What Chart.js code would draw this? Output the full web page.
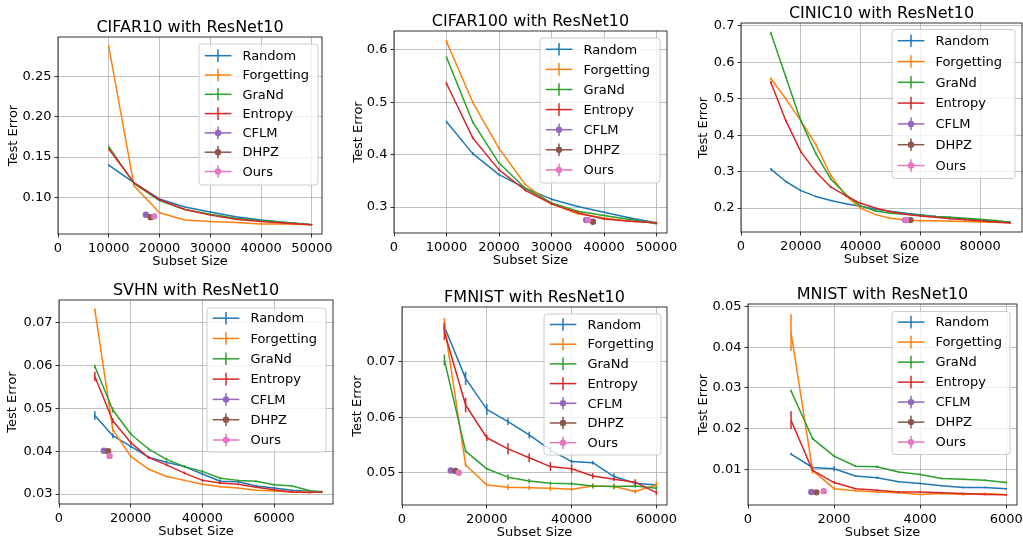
<!DOCTYPE html>
<html><head><meta charset="utf-8">
<script src="https://cdn.jsdelivr.net/npm/chart.js@4.4.1/dist/chart.umd.min.js"></script>
<style>
html,body{margin:0;padding:0;background:#fff;width:1023px;height:537px;overflow:hidden;position:relative}
canvas{position:absolute}
</style></head><body>
<script>
// ---------- data ----------
const methods = ['Random','Forgetting','GraNd','Entropy','CFLM','DHPZ','Ours'];

// CIFAR10
const cifar10Sizes = [10000,15000,20000,25000,30000,35000,40000,45000,50000];
const cifar10Random     = [0.140,0.118,0.098,0.088,0.082,0.076,0.072,0.069,0.066];
const cifar10Forgetting = [0.287,0.114,0.081,0.072,0.070,0.069,0.067,0.067,0.066];
const cifar10GraNd      = [0.163,0.117,0.096,0.085,0.079,0.074,0.071,0.069,0.066];
const cifar10Entropy    = [0.160,0.118,0.097,0.085,0.078,0.073,0.070,0.068,0.066];
const cifar10RandomErr     = [0.001,0.0008,0.0006,0.0005,0.0005,0.0005,0.0004,0.0004,0.0003];
const cifar10ForgettingErr = [0.002,0.0008,0.0006,0.0005,0.0005,0.0008,0.0004,0.0004,0.0003];
const cifar10GraNdErr      = [0.001,0.0008,0.0006,0.0005,0.0005,0.0005,0.0004,0.0004,0.0003];
const cifar10EntropyErr    = [0.001,0.0008,0.0006,0.0005,0.0005,0.0005,0.0004,0.0004,0.0003];
const cifar10CFLM = [17300,0.0785,0.0005];
const cifar10DHPZ = [18250,0.0755,0.0005];
const cifar10Ours = [18950,0.0765,0.0005];
const cifar10XTicks = ['0','10000','20000','30000','40000','50000'];
const cifar10YTicks = ['0.10','0.15','0.20','0.25'];
const cifar10XRange = [0,52000];
const cifar10YRange = [0.0546,0.2988];

// CIFAR100
const cifar100Sizes = [10000,15000,20000,25000,30000,35000,40000,45000,50000];
const cifar100Random     = [0.463,0.402,0.362,0.336,0.315,0.301,0.290,0.279,0.270];
const cifar100Forgetting = [0.616,0.500,0.412,0.343,0.306,0.287,0.279,0.273,0.270];
const cifar100GraNd      = [0.586,0.462,0.384,0.336,0.308,0.292,0.284,0.276,0.268];
const cifar100Entropy    = [0.536,0.432,0.371,0.332,0.306,0.289,0.277,0.273,0.270];
const cifar100RandomErr     = [0.002,0.003,0.002,0.002,0.002,0.0015,0.0015,0.002,0.0015];
const cifar100ForgettingErr = [0.003,0.002,0.002,0.002,0.002,0.0015,0.0015,0.0015,0.0015];
const cifar100GraNdErr      = [0.002,0.002,0.002,0.002,0.002,0.0015,0.0015,0.0015,0.0015];
const cifar100EntropyErr    = [0.003,0.002,0.002,0.002,0.002,0.0015,0.0015,0.0015,0.0015];
const cifar100CFLM = [36600,0.275,0.002];
const cifar100DHPZ = [37900,0.272,0.002];
const cifar100Ours = [36950,0.275,0.002];
const cifar100XTicks = ['0','10000','20000','30000','40000','50000'];
const cifar100YTicks = ['0.3','0.4','0.5','0.6'];
const cifar100XRange = [0,52000];
const cifar100YRange = [0.2504,0.6362];

// CINIC10
const cinic10Sizes = [10000,15000,20000,25000,30000,35000,40000,45000,50000,55000,60000,65000,70000,75000,80000,85000,90000];
const cinic10Random     = [0.307,0.273,0.248,0.232,0.221,0.212,0.205,0.197,0.191,0.186,0.182,0.177,0.174,0.170,0.167,0.164,0.162];
const cinic10Forgetting = [0.555,0.500,0.440,0.375,0.290,0.235,0.200,0.182,0.172,0.167,0.165,0.165,0.164,0.163,0.162,0.161,0.160];
const cinic10GraNd      = [0.680,0.560,0.440,0.350,0.280,0.238,0.206,0.192,0.186,0.183,0.180,0.177,0.175,0.172,0.169,0.166,0.161];
const cinic10Entropy    = [0.545,0.440,0.355,0.300,0.258,0.234,0.213,0.200,0.190,0.183,0.178,0.175,0.171,0.168,0.165,0.162,0.159];
const cinic10RandomErr     = [0.003,0.002,0.002,0.002,0.002,0.002,0.002,0.002,0.002,0.002,0.002,0.002,0.002,0.002,0.002,0.002,0.002];
const cinic10ForgettingErr = [0.004,0.003,0.003,0.003,0.003,0.002,0.002,0.002,0.002,0.002,0.002,0.002,0.002,0.002,0.002,0.002,0.002];
const cinic10GraNdErr      = [0.004,0.003,0.003,0.003,0.003,0.002,0.002,0.002,0.002,0.002,0.002,0.002,0.002,0.002,0.002,0.002,0.002];
const cinic10EntropyErr    = [0.004,0.003,0.003,0.003,0.003,0.002,0.002,0.002,0.002,0.002,0.002,0.002,0.002,0.002,0.002,0.002,0.002];
const cinic10CFLM = [54900,0.167,0.002];
const cinic10DHPZ = [56700,0.167,0.002];
const cinic10Ours = [55200,0.167,0.002];
const cinic10XTicks = ['0','20000','40000','60000','80000'];
const cinic10YTicks = ['0.2','0.3','0.4','0.5','0.6','0.7'];
const cinic10XRange = [0,94000];
const cinic10YRange = [0.1343,0.7082];

// SVHN
const svhnSizes = [10000,15000,20000,25000,30000,35000,40000,45000,50000,55000,60000,65000,70000,73257];
const svhnRandom     = [0.0483,0.0436,0.0411,0.0386,0.0374,0.0364,0.0347,0.0330,0.0329,0.0319,0.0314,0.0309,0.0306,0.0306];
const svhnForgetting = [0.0729,0.0450,0.0388,0.0358,0.0341,0.0332,0.0323,0.0317,0.0314,0.0309,0.0307,0.0305,0.0305,0.0305];
const svhnGraNd      = [0.0597,0.0496,0.0440,0.0405,0.0381,0.0364,0.0353,0.0337,0.0332,0.0330,0.0322,0.0319,0.0308,0.0305];
const svhnEntropy    = [0.0574,0.0471,0.0420,0.0385,0.0368,0.0349,0.0332,0.0326,0.0323,0.0316,0.0310,0.0305,0.0304,0.0305];
const svhnRandomErr     = [0.0010,0.0006,0.0004,0.0003,0.0003,0.0003,0.0003,0.0003,0.0003,0.0003,0.0002,0.0002,0.0002,0.0002];
const svhnForgettingErr = [0.0003,0.0005,0.0003,0.0002,0.0002,0.0002,0.0002,0.0002,0.0002,0.0002,0.0002,0.0002,0.0002,0.0002];
const svhnGraNdErr      = [0.0004,0.0006,0.0003,0.0003,0.0003,0.0003,0.0003,0.0003,0.0002,0.0002,0.0002,0.0002,0.0002,0.0002];
const svhnEntropyErr    = [0.0011,0.0006,0.0004,0.0003,0.0003,0.0003,0.0003,0.0003,0.0002,0.0002,0.0002,0.0002,0.0002,0.0002];
const svhnCFLM = [12500,0.0401,0.0002];
const svhnDHPZ = [13700,0.0400,0.0002];
const svhnOurs = [14100,0.0389,0.0002];
const svhnXTicks = ['0','20000','40000','60000'];
const svhnYTicks = ['0.03','0.04','0.05','0.06','0.07'];
const svhnXRange = [0,76420];
const svhnYRange = [0.0277,0.0752];

// FMNIST
const fmnistSizes = [10000,15000,20000,25000,30000,35000,40000,45000,50000,55000,60000];
const fmnistRandom     = [0.0763,0.0670,0.0614,0.0592,0.0568,0.0541,0.0520,0.0518,0.0493,0.0481,0.0478];
const fmnistForgetting = [0.0766,0.0514,0.0478,0.0474,0.0473,0.0472,0.0470,0.0476,0.0475,0.0466,0.0478];
const fmnistGraNd      = [0.0703,0.0539,0.0507,0.0492,0.0485,0.0481,0.0480,0.0476,0.0475,0.0476,0.0472];
const fmnistEntropy    = [0.0754,0.0622,0.0563,0.0543,0.0527,0.0511,0.0507,0.0494,0.0488,0.0483,0.0464];
const fmnistRandomErr     = [0.0008,0.0012,0.0010,0.0006,0.0006,0.0006,0.0003,0.0003,0.0006,0.0003,0.0003];
const fmnistForgettingErr = [0.0013,0.0003,0.0002,0.0005,0.0004,0.0005,0.0003,0.0005,0.0005,0.0004,0.0006];
const fmnistGraNdErr      = [0.0010,0.0003,0.0002,0.0005,0.0004,0.0003,0.0003,0.0003,0.0004,0.0003,0.0004];
const fmnistEntropyErr    = [0.0015,0.0013,0.0006,0.0010,0.0008,0.0008,0.0008,0.0005,0.0003,0.0005,0.0004];
const fmnistCFLM = [11500,0.0504,0.0005];
const fmnistDHPZ = [12600,0.0503,0.0004];
const fmnistOurs = [13400,0.0500,0.0002];
const fmnistXTicks = ['0','20000','40000','60000'];
const fmnistYTicks = ['0.05','0.06','0.07'];
const fmnistXRange = [0,62500];
const fmnistYRange = [0.04418,0.07986];

// MNIST
const mnistSizes = [1000,1500,2000,2500,3000,3500,4000,4500,5000,5500,6000];
const mnistRandom     = [0.0138,0.0105,0.0102,0.0084,0.0080,0.0070,0.0066,0.0060,0.0056,0.0056,0.0053];
const mnistForgetting = [0.0436,0.0098,0.0053,0.0048,0.0045,0.0043,0.0039,0.0041,0.0039,0.0041,0.0038];
const mnistGraNd      = [0.0293,0.0176,0.0133,0.0108,0.0107,0.0094,0.0088,0.0078,0.0076,0.0074,0.0068];
const mnistEntropy    = [0.0221,0.0098,0.0068,0.0053,0.0049,0.0045,0.0045,0.0043,0.0041,0.0039,0.0038];
const mnistRandomErr     = [0.0003,0.0003,0.0006,0.0002,0.0003,0.0002,0.0002,0.0002,0.0002,0.0002,0.0002];
const mnistForgettingErr = [0.0045,0.0008,0.0003,0.0002,0.0002,0.0002,0.0002,0.0002,0.0002,0.0002,0.0002];
const mnistGraNdErr      = [0.0003,0.0003,0.0003,0.0002,0.0003,0.0002,0.0002,0.0002,0.0002,0.0002,0.0002];
const mnistEntropyErr    = [0.0022,0.0003,0.0003,0.0002,0.0002,0.0002,0.0002,0.0002,0.0002,0.0002,0.0002];
const mnistCFLM = [1470,0.0045,0.0002];
const mnistDHPZ = [1590,0.0044,0.0002];
const mnistOurs = [1760,0.0047,0.0002];
const mnistXTicks = ['0','2000','4000','6000'];
const mnistYTicks = ['0.01','0.02','0.03','0.04','0.05'];
const mnistXRange = [0,6250];
const mnistYRange = [0.0013,0.0506];

// ---------- styles / layout ----------
const colors = ['#1f77b4','#ff7f0e','#2ca02c','#d62728','#9467bd','#8c564b','#e377c2'];
const FONT = "'DejaVu Sans', 'Liberation Sans', sans-serif";

const panels = [
  {title:'CIFAR10 with ResNet10', sizes:cifar10Sizes,
   series:[cifar10Random,cifar10Forgetting,cifar10GraNd,cifar10Entropy],
   errs:[cifar10RandomErr,cifar10ForgettingErr,cifar10GraNdErr,cifar10EntropyErr],
   pts:[cifar10CFLM,cifar10DHPZ,cifar10Ours], xTicks:cifar10XTicks, yTicks:cifar10YTicks,
   xRange:cifar10XRange, yRange:cifar10YRange,
   area:[58,37,322,234], W:52, legend:{gapRight:4,gapTop:7,w:119,h:141,row:19.3}},
  {title:'CIFAR100 with ResNet10', sizes:cifar100Sizes,
   series:[cifar100Random,cifar100Forgetting,cifar100GraNd,cifar100Entropy],
   errs:[cifar100RandomErr,cifar100ForgettingErr,cifar100GraNdErr,cifar100EntropyErr],
   pts:[cifar100CFLM,cifar100DHPZ,cifar100Ours], xTicks:cifar100XTicks, yTicks:cifar100YTicks,
   xRange:cifar100XRange, yRange:cifar100YRange,
   area:[394,31,667,233], W:43, legend:{gapRight:7,gapTop:7,w:120,h:145,row:20.1}},
  {title:'CINIC10 with ResNet10', sizes:cinic10Sizes,
   series:[cinic10Random,cinic10Forgetting,cinic10GraNd,cinic10Entropy],
   errs:[cinic10RandomErr,cinic10ForgettingErr,cinic10GraNdErr,cinic10EntropyErr],
   pts:[cinic10CFLM,cinic10DHPZ,cinic10Ours], xTicks:cinic10XTicks, yTicks:cinic10YTicks,
   xRange:cinic10XRange, yRange:cinic10YRange,
   area:[741,23,1022,232], W:45, legend:{gapRight:7,gapTop:6.5,w:123,h:149,row:20.8}},
  {title:'SVHN with ResNet10', sizes:svhnSizes,
   series:[svhnRandom,svhnForgetting,svhnGraNd,svhnEntropy],
   errs:[svhnRandomErr,svhnForgettingErr,svhnGraNdErr,svhnEntropyErr],
   pts:[svhnCFLM,svhnDHPZ,svhnOurs], xTicks:svhnXTicks, yTicks:svhnYTicks,
   xRange:svhnXRange, yRange:svhnYRange,
   area:[59,300,333,504], W:54, legend:{gapRight:7,gapTop:8,w:119,h:144,row:20.3}},
  {title:'FMNIST with ResNet10', sizes:fmnistSizes,
   series:[fmnistRandom,fmnistForgetting,fmnistGraNd,fmnistEntropy],
   errs:[fmnistRandomErr,fmnistForgettingErr,fmnistGraNdErr,fmnistEntropyErr],
   pts:[fmnistCFLM,fmnistDHPZ,fmnistOurs], xTicks:fmnistXTicks, yTicks:fmnistYTicks,
   xRange:fmnistXRange, yRange:fmnistYRange,
   area:[402,307,667,505], W:52, legend:{gapRight:6,gapTop:7,w:117,h:141,row:19.7}},
  {title:'MNIST with ResNet10', sizes:mnistSizes,
   series:[mnistRandom,mnistForgetting,mnistGraNd,mnistEntropy],
   errs:[mnistRandomErr,mnistForgettingErr,mnistGraNdErr,mnistEntropyErr],
   pts:[mnistCFLM,mnistDHPZ,mnistOurs], xTicks:mnistXTicks, yTicks:mnistYTicks,
   xRange:mnistXRange, yRange:mnistYRange,
   area:[748,304,1017,505], W:52, legend:{gapRight:7,gapTop:7.5,w:118,h:143,row:20}}
];

const TITLE_H = 19, XAXIS_H = 36, RPAD = 16;

function roundRectPath(ctx,x,y,w,h,r){
  ctx.beginPath();
  ctx.moveTo(x+r,y); ctx.lineTo(x+w-r,y); ctx.arcTo(x+w,y,x+w,y+r,r);
  ctx.lineTo(x+w,y+h-r); ctx.arcTo(x+w,y+h,x+w-r,y+h,r);
  ctx.lineTo(x+r,y+h); ctx.arcTo(x,y+h,x,y+h-r,r);
  ctx.lineTo(x,y+r); ctx.arcTo(x,y,x+r,y,r); ctx.closePath();
}

const decorPlugin = {
  id:'decor',
  afterDatasetDraw(chart, args){
    const ds = chart.data.datasets[args.index];
    if(!ds.errs) return;
    const {ctx, chartArea:a} = chart;
    const ys = chart.scales.y;
    ctx.save();
    ctx.beginPath(); ctx.rect(a.left,a.top,a.right-a.left,a.bottom-a.top); ctx.clip();
    ctx.strokeStyle = ds.borderColor || ds.pointBackgroundColor;
    ctx.lineWidth = 1.5;
    args.meta.data.forEach((el,i)=>{
      const e = ds.errs[i]; if(!e) return;
      const v = ds.data[i].y;
      const y1 = ys.getPixelForValue(v - e), y2 = ys.getPixelForValue(v + e);
      ctx.beginPath(); ctx.moveTo(el.x,y1); ctx.lineTo(el.x,y2); ctx.stroke();
    });
    ctx.restore();
  },
  afterDatasetsDraw(chart, args, opts){
    const {ctx, chartArea:a} = chart;
    ctx.save();
    ctx.strokeStyle = '#000'; ctx.lineWidth = 0.8;
    ctx.strokeRect(a.left, a.top, a.right-a.left, a.bottom-a.top);
    const cfg = opts.legend;
    if(cfg){
      const x0 = a.right - cfg.gapRight - cfg.w, y0 = a.top + cfg.gapTop;
      roundRectPath(ctx, x0, y0, cfg.w, cfg.h, 3);
      ctx.fillStyle = 'rgba(255,255,255,0.8)'; ctx.fill();
      ctx.strokeStyle = '#cccccc'; ctx.lineWidth = 1; ctx.stroke();
      const first = y0 + (cfg.h - 6*cfg.row)/2 - 0.9;
      ctx.font = '13px ' + FONT;
      ctx.textBaseline = 'middle'; ctx.textAlign = 'left';
      methods.forEach((m,i)=>{
        const cy = first + i*cfg.row;
        const c = colors[i];
        ctx.strokeStyle = c; ctx.lineWidth = 1.5;
        ctx.beginPath(); ctx.moveTo(x0+5.7, cy); ctx.lineTo(x0+32.4, cy); ctx.stroke();
        ctx.beginPath(); ctx.moveTo(x0+19, cy-6.3); ctx.lineTo(x0+19, cy+6.3); ctx.stroke();
        if(i>=4){ ctx.fillStyle = c; ctx.beginPath(); ctx.arc(x0+19, cy, 3.2, 0, Math.PI*2); ctx.fill(); }
        ctx.fillStyle = '#000';
        ctx.fillText(m, x0+43.4, cy+0.9);
      });
    }
    ctx.restore();
  }
};
Chart.register(decorPlugin);
Chart.defaults.font.family = FONT;
Chart.defaults.font.size = 13;
Chart.defaults.color = '#000';

panels.forEach(p=>{
  const [L,T,R,B] = p.area;
  const cv = document.createElement('canvas');
  const w = p.W + (R-L) + RPAD, h = TITLE_H + (B-T) + XAXIS_H;
  cv.width = w; cv.height = h;
  cv.style.left = (L - p.W) + 'px'; cv.style.top = (T - TITLE_H) + 'px';
  cv.style.width = w + 'px'; cv.style.height = h + 'px';
  document.body.appendChild(cv);

  const datasets = [];
  p.series.forEach((ys,i)=>{
    datasets.push({label:methods[i], data:p.sizes.map((x,j)=>({x:x, y:ys[j]})), errs:p.errs[i],
      borderColor:colors[i], backgroundColor:colors[i], borderWidth:1.5, pointRadius:0,
      tension:0, fill:false, borderJoinStyle:'round', order:-i});
  });
  p.pts.forEach((pt,k)=>{
    const i = 4+k;
    datasets.push({label:methods[i], data:[{x:pt[0], y:pt[1]}], errs:[pt[2]], showLine:false,
      borderColor:colors[i], pointRadius:3.2, pointBackgroundColor:colors[i], pointBorderColor:colors[i],
      pointBorderWidth:0, order:-i});
  });

  const gridCfg = {color:'#b0b0b0', lineWidth:0.8, tickColor:'#000', tickLength:3.5, tickWidth:0.8};
  new Chart(cv, {
    type:'line',
    data:{datasets},
    options:{
      responsive:false, animation:false, devicePixelRatio:1,
      events:[],
      layout:{padding:{left:0,right:RPAD,top:0,bottom:0}},
      plugins:{
        legend:{display:false}, tooltip:{enabled:false},
        title:{display:true, text:p.title, fullSize:false, color:'#000',
               font:{size:16, weight:'normal', lineHeight:1.1875}, padding:{top:0,bottom:0}},
        decor:{legend:p.legend}
      },
      scales:{
        x:{type:'linear', min:p.xRange[0], max:p.xRange[1],
           afterBuildTicks:s=>{ s.ticks = p.xTicks.map(v=>({value:parseFloat(v)})); },
           ticks:{callback:(v,i)=>p.xTicks[i], padding:3, maxRotation:0, autoSkip:false, color:'#000', font:{size:13}},
           grid:gridCfg, border:{display:false},
           title:{display:true, text:'Subset Size', color:'#000', font:{size:13, lineHeight:1.2}, padding:{top:0,bottom:0.3}},
           afterFit:s=>{ s.height = XAXIS_H; s.paddingLeft = 0; s.paddingRight = 0; }},
        y:{type:'linear', min:p.yRange[0], max:p.yRange[1],
           afterBuildTicks:s=>{ s.ticks = p.yTicks.map(v=>({value:parseFloat(v)})); },
           ticks:{callback:(v,i)=>p.yTicks[i], padding:3, autoSkip:false, color:'#000', font:{size:13}},
           grid:gridCfg, border:{display:false},
           title:{display:true, text:'Test Error', color:'#000', font:{size:13, lineHeight:1.2}, padding:{top:0,bottom:0}},
           afterFit:s=>{ s.width = p.W; s.paddingTop = 0; s.paddingBottom = 0; }}
      }
    }
  });
});
</script>
</body></html>
